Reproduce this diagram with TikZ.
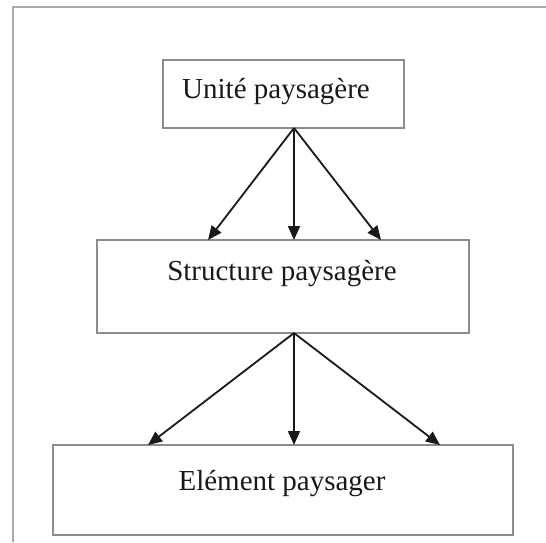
\documentclass[tikz,border=0pt]{standalone}
\usepackage{fontspec}
\setmainfont{Liberation Serif}
\usetikzlibrary{arrows.meta}
\definecolor{boxgray}{RGB}{140,140,140}
\definecolor{framegray}{RGB}{170,170,170}
\definecolor{arrowcol}{RGB}{25,25,25}
\begin{document}
\begin{tikzpicture}[x=1pt,y=-1pt,
  box/.style={draw=boxgray,line width=2.3pt,fill=white,inner sep=0pt},
  lbl/.style={anchor=base,inner sep=0pt,font=\fontsize{29}{31}\selectfont,text=black!90},
  conn/.style={draw=arrowcol,line width=1.8pt,-{Triangle[length=14pt,width=12pt]}}]
\useasboundingbox (0,0) rectangle (546,542);
\fill[white] (0,0) rectangle (546,542);
% frame
\draw[framegray,line width=1.8pt] (13,542) -- (13,7) -- (546,7);
% boxes
\node[box,minimum width=241pt,minimum height=68pt] (b1) at (283.5,94) {};
\node[box,minimum width=372pt,minimum height=93pt] (b2) at (283,286.5) {};
\node[box,minimum width=460pt,minimum height=90pt] (b3) at (283,490) {};
% labels
\node[lbl] (t1) at (276,98) {Unité paysagère};
\node[lbl] (t2) at (282,280) {Structure paysagère};
\node[lbl] (t3) at (282,490) {Elément paysager};
% connector points
\coordinate (o1) at (294,128);
\coordinate (e1l) at (208,240);
\coordinate (e1m) at (294,240);
\coordinate (e1r) at (381,240);
\coordinate (o2) at (294,333);
\coordinate (e2l) at (148,445);
\coordinate (e2m) at (294,445);
\coordinate (e2r) at (440,445);
\draw[conn] (o1) -- (e1l);
\draw[conn] (o1) -- (e1m);
\draw[conn] (o1) -- (e1r);
\draw[conn] (o2) -- (e2l);
\draw[conn] (o2) -- (e2m);
\draw[conn] (o2) -- (e2r);
\end{tikzpicture}
\end{document}
